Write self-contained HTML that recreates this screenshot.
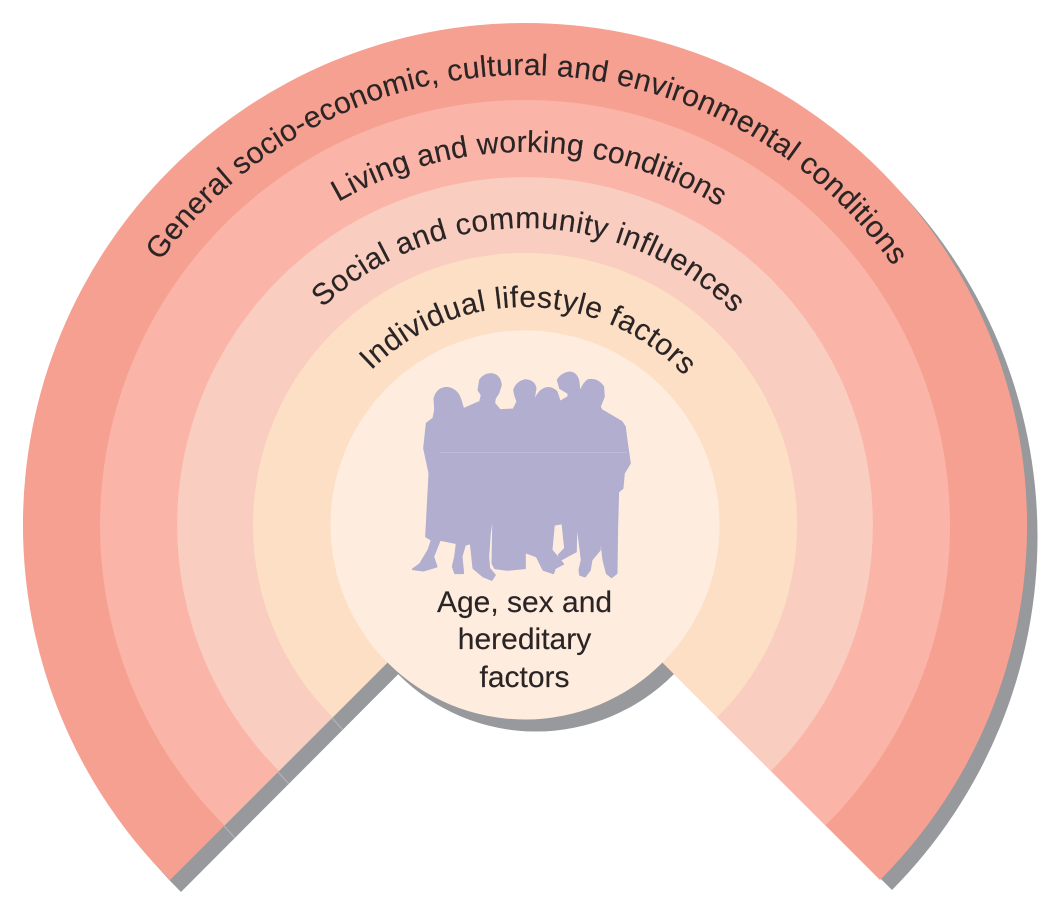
<!DOCTYPE html>
<html><head><meta charset="utf-8"><style>
html,body{margin:0;padding:0;background:#fff}
svg{display:block}
text{font-family:"Liberation Sans",sans-serif;fill:#2a2425;font-size:30px;stroke:#2a2425;stroke-width:.15px}
</style></head><body>
<svg width="1062" height="920" viewBox="0 0 1062 920" xmlns="http://www.w3.org/2000/svg">
<defs>
<path id="t1" d="M75 525A450 450 0 0 1 975 525A450 450 0 0 1 75 525"/>
<path id="t2" d="M152 525A373 373 0 0 1 898 525A373 373 0 0 1 152 525"/>
<path id="t3" d="M228 525A297 297 0 0 1 822 525A297 297 0 0 1 228 525"/>
<path id="t4" d="M307 525A218 218 0 0 1 743 525A218 218 0 0 1 307 525"/>
</defs>
<!-- shadow -->
<g fill="#97999c">
<path d="M181 892A502 502 0 1 1 892 890L537 535Z"/>
<circle cx="536" cy="537" r="194.5"/>
</g>
<!-- seams in shadow -->
<g stroke="#b4b6b8" stroke-width="1" fill="none">
<path d="M224 826L235 838M278 772L289 784M332 718L343 730"/>
</g>
<!-- rings -->
<path d="M170 880A502 502 0 1 1 880 880L525 525Z" fill="#f6a091"/>
<path d="M224.500 825.500A425 425 0 1 1 825.500 825.500L525 525Z" fill="#fab4a8"/>
<path d="M279 771A348 348 0 1 1 771 771L525 525Z" fill="#f9cdc0"/>
<path d="M332.700 717.300A272 272 0 1 1 717.300 717.300L525 525Z" fill="#fddfc6"/>
<circle cx="525" cy="525" r="194.500" fill="#feeddf"/>
<!-- silhouette -->
<g transform="translate(400,360) scale(.3333)">
<path fill="#b1aed0" stroke="#b1aed0" stroke-width="5" stroke-linejoin="round" d="M100 175L105 150L103 115Q112 84 140 83Q172 86 182 120L190 147L240 125L245 105L235 90L240 60Q252 42 275 42Q300 46 303 75L295 100L285 115L283 130L300 150L340 148L352 125L345 105L342 90Q350 66 375 60Q403 62 407 85L403 110L395 145Q405 112 420 95Q445 72 470 95L480 125L505 110L505 100L480 85L473 60Q485 40 510 37Q535 40 537 75L540 100Q548 70 565 60Q592 55 610 80L612 110L600 140L605 150L665 185L675 200L680 240L690 310L672 340L668 385L655 395L652 500L650 640L635 652L620 640L610 600L598 500L600 570L575 600L570 630L555 650L540 645L538 630L545 600L530 480L528 575L500 590L482 600L476 585L495 565L487 490L462 495L455 570L490 612L465 625L460 640L430 630L410 590L370 575L368 420L375 480L375 625L320 630L285 625L277 610L280 445L270 520L265 590L268 625L285 645L275 660L250 650L220 625L212 550L195 555L185 590L190 640L165 640L158 620L165 590L170 550L120 540L100 590L110 620L70 632L38 628L60 612L85 570L95 540L78 530L88 340L72 265L80 190Z"/>
<path d="M120 277H680" stroke="#c5c2dd" stroke-width="2" fill="none"/>
</g>
<!-- curved labels -->
<g transform="rotate(0.4 525 525)"><text text-anchor="middle" letter-spacing=".34"><textPath href="#t1" startOffset="25%">General socio-economic, cultural and environmental conditions</textPath></text></g>
<g transform="rotate(0.7 525 525)"><text text-anchor="middle" letter-spacing=".28"><textPath href="#t2" startOffset="25%">Living and working conditions</textPath></text></g>
<g transform="rotate(0.85 525 525)"><text text-anchor="middle" letter-spacing=".55"><textPath href="#t3" startOffset="25%">Social and community influences</textPath></text></g>
<g transform="rotate(1.1 525 525)"><text text-anchor="middle" letter-spacing=".57"><textPath href="#t4" startOffset="25%">Individual lifestyle factors</textPath></text></g>
<!-- centre -->
<text x="524.500" y="612" text-anchor="middle">Age, sex and</text>
<text x="524.500" y="649" text-anchor="middle">hereditary</text>
<text x="524.500" y="687" text-anchor="middle">factors</text>
</svg>
</body></html>
